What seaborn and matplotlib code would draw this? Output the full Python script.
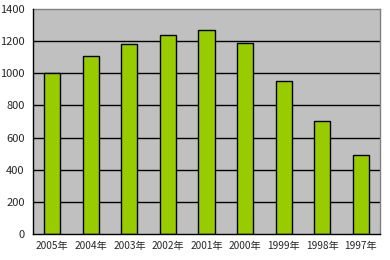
import matplotlib
matplotlib.use("Agg")
import matplotlib.pyplot as plt
import seaborn as sns
import pandas as pd
from matplotlib.ticker import FixedLocator

years = ["2005年", "2004年", "2003年", "2002年", "2001年", "2000年", "1999年", "1998年", "1997年"]
values = [1000, 1110, 1180, 1240, 1270, 1190, 950, 700, 490]
yticks = [0, 200, 400, 600, 800, 1000, 1200, 1400]

sns.set_style("white")
plt.rcParams['font.family'] = ['Noto Sans CJK JP', 'DejaVu Sans']

df = pd.DataFrame({"year": years, "value": values})

fig = plt.figure(figsize=(3.9, 2.6), dpi=100)
ax = fig.add_axes([33/390, 1 - 234/260, (380 - 33)/390, (234 - 9)/260])
ax.set_facecolor("#C0C0C0")

sns.barplot(data=df, x="year", y="value", order=years, color="#99CC00",
            edgecolor="black", linewidth=1.0, width=0.42, saturation=1, ax=ax, zorder=3)

ax.set_ylim(0, 1400)
ax.set_xlim(-0.5, len(years) - 0.5)
ax.set_yticks(yticks)
ax.set_yticklabels([str(v) for v in yticks], fontsize=8)
ax.set_xticks(range(len(years)))
ax.set_xticklabels(years, fontsize=7.3)
ax.xaxis.set_minor_locator(FixedLocator([i + 0.5 for i in range(len(years) - 1)]))
ax.tick_params(axis="x", which="major", length=0, pad=5)
ax.tick_params(axis="x", which="minor", direction="in", length=3, width=1, color="black")
ax.tick_params(axis="y", which="major", direction="out", length=3, width=1, color="black", pad=3)

for v in yticks[1:-1]:
    ax.axhline(v, color="black", linewidth=1.0, zorder=1)

ax.set_xlabel("")
ax.set_ylabel("")
for s in ["left", "bottom"]:
    ax.spines[s].set_color("black")
    ax.spines[s].set_linewidth(1.0)
    ax.spines[s].set_zorder(4)
for s in ["top", "right"]:
    ax.spines[s].set_visible(True)
    ax.spines[s].set_color("#808080")
    ax.spines[s].set_linewidth(1.0)

fig.savefig("out.png", dpi=100)
